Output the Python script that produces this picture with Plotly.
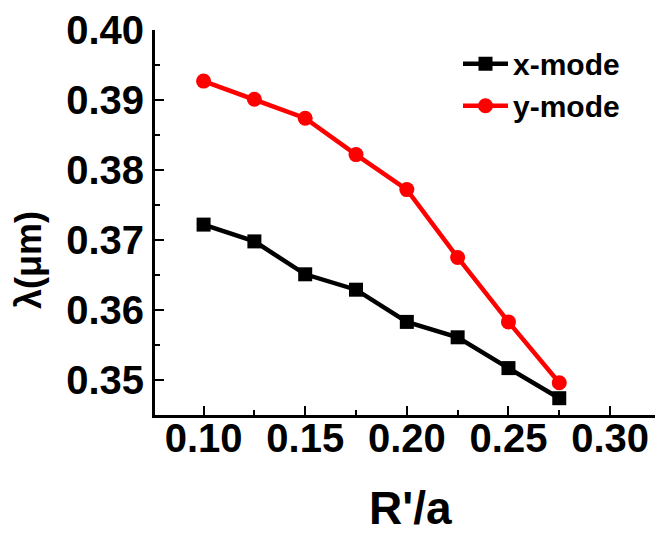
import plotly.graph_objects as go

ratio = [0.100, 0.125, 0.150, 0.175, 0.200, 0.225, 0.250, 0.275]
x_mode = [0.3722, 0.3698, 0.3651, 0.3629, 0.3583, 0.3561, 0.3517, 0.3474]
y_mode = [0.3927, 0.3901, 0.3874, 0.3822, 0.3772, 0.3675, 0.3583, 0.3496]
x_ticks = [0.10, 0.15, 0.20, 0.25, 0.30]
y_ticks = [0.35, 0.36, 0.37, 0.38, 0.39, 0.40]

FONT = "Liberation Sans"

fig = go.Figure()
fig.add_trace(go.Scatter(x=ratio, y=x_mode, name="x-mode", mode="lines+markers",
                         line=dict(color="black", width=4.5),
                         marker=dict(symbol="square", size=14, color="black")))
fig.add_trace(go.Scatter(x=ratio, y=y_mode, name="y-mode", mode="lines+markers",
                         line=dict(color="#ff0000", width=4.5),
                         marker=dict(symbol="circle", size=15, color="#ff0000")))

axis_common = dict(showline=True, linecolor="black", linewidth=3, showgrid=False,
                   zeroline=False, ticks="inside", ticklen=9, tickwidth=2, tickcolor="black",
                   tickfont=dict(family=FONT, size=40, color="black", weight="bold"),
                   minor=dict(ticks="inside", ticklen=5, tickwidth=2, tickcolor="black"))

fig.update_xaxes(range=[0.0761, 0.3221], tickvals=x_ticks, ticktext=[f"{v:.2f}" for v in x_ticks],
                 minor_dtick=0.025, ticklabelstandoff=-14, **axis_common)
fig.update_yaxes(range=[0.345, 0.40], tickvals=y_ticks, ticktext=[f"{v:.2f}" for v in y_ticks],
                 minor_dtick=0.005, **axis_common)

fig.add_annotation(text="R'/a", xref="paper", yref="paper", x=0.51, y=-0.2416,
                   xanchor="center", yanchor="middle", showarrow=False,
                   font=dict(family=FONT, size=46, color="black", weight="bold"))
fig.add_annotation(text="λ(μm)", xref="paper", yref="paper", x=-0.252, y=0.4026,
                   xanchor="center", yanchor="middle", showarrow=False, textangle=-90,
                   font=dict(family=FONT, size=36, color="black", weight="bold"))

fig.update_layout(width=655, height=536, margin=dict(l=155, r=0, t=30, b=121),
                  paper_bgcolor="white", plot_bgcolor="white",
                  showlegend=True,
                  legend=dict(x=0.606, y=0.98, xanchor="left", yanchor="top",
                              bgcolor="rgba(0,0,0,0)", tracegroupgap=0, itemwidth=45,
                              font=dict(family=FONT, size=30, color="black", weight="bold")))

fig.write_html("out.html")
